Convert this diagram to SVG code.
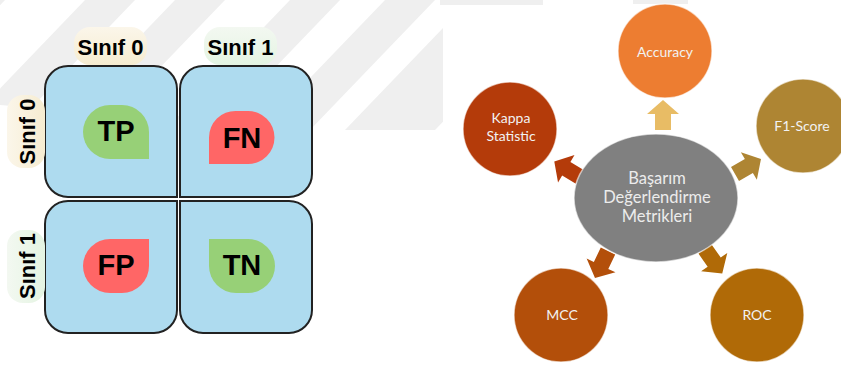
<svg xmlns="http://www.w3.org/2000/svg" width="841" height="369" viewBox="0 0 841 369">
<defs>
<style>
.quad{fill:#aedbef;stroke:#222;stroke-width:2}
.big{font-family:"Liberation Sans",Arial,sans-serif;font-weight:bold;font-size:29px;fill:#000;text-anchor:middle}
.hdr{font-family:"Liberation Sans",Arial,sans-serif;font-weight:bold;font-size:22px;fill:#000;text-anchor:middle}
.met{font-family:Lato,"Open Sans",sans-serif;font-size:14px;fill:#f2f2f2;text-anchor:middle}
.ctr{font-family:Lato,"Open Sans",sans-serif;font-size:16.5px;fill:#ececec;text-anchor:middle}
.node{stroke:#ffffff;stroke-opacity:0.6;stroke-width:1.5}
.stripe{fill:#efefef}
</style>
<linearGradient id="cream" x1="0" y1="0" x2="0" y2="1">
<stop offset="0" stop-color="#fbf6ea"/><stop offset="1" stop-color="#f6ecd0"/>
</linearGradient>
<linearGradient id="creamV" x1="0" y1="0" x2="1" y2="0">
<stop offset="0" stop-color="#fbf6ea"/><stop offset="1" stop-color="#f6ecd0"/>
</linearGradient>
<linearGradient id="mint" x1="0" y1="0" x2="0" y2="1">
<stop offset="0" stop-color="#f3f8f1"/><stop offset="1" stop-color="#e4f4e2"/>
</linearGradient>
<linearGradient id="mintV" x1="0" y1="0" x2="1" y2="0">
<stop offset="0" stop-color="#f3f8f1"/><stop offset="1" stop-color="#e4f4e2"/>
</linearGradient>
<clipPath id="wm"><polygon points="0,0 443,0 443,130 300,130 0,105"/></clipPath>
<polygon id="arr" points="0,-8 16,-8 16,-16 30,0 16,16 16,8 0,8"/>
</defs>
<rect width="841" height="369" fill="#ffffff"/>
<g id="watermark" clip-path="url(#wm)">
<polygon class="stripe" points="-40,0 5,0 -120,130 -165,130"/>
<polygon class="stripe" points="85,0 135,0 10,130 -40,130"/>
<polygon class="stripe" points="175,0 225,0 100,130 50,130"/>
<polygon class="stripe" points="290,0 340,0 215,130 165,130"/>
<polygon class="stripe" points="385,0 435,0 310,130 260,130"/>
<polygon class="stripe" points="470,0 560,0 435,130 345,130"/>
</g>
<g id="watermark-top">
<rect x="440" y="0" width="103" height="5" fill="#efefef"/>
<rect x="633" y="0" width="55" height="4" fill="#efefef"/>
</g>
<g id="quadrants">
<g id="q-tp"><path class="quad" d="M68,66 H154 A23,23 0 0 1 177,89 V197 H68 A23,23 0 0 1 45,174 V89 A23,23 0 0 1 68,66 Z"/></g>
<g id="q-fn"><path class="quad" d="M203,66 H289 A23,23 0 0 1 312,89 V174 A23,23 0 0 1 289,197 H180 V89 A23,23 0 0 1 203,66 Z"/></g>
<g id="q-fp"><path class="quad" d="M68,201 H177 V310 A23,23 0 0 1 154,333 H68 A23,23 0 0 1 45,310 V224 A23,23 0 0 1 68,201 Z"/></g>
<g id="q-tn"><path class="quad" d="M180,201 H289 A23,23 0 0 1 312,224 V310 A23,23 0 0 1 289,333 H203 A23,23 0 0 1 180,310 Z"/></g>
</g>
<g id="headers">
<g id="h-col0"><rect x="74" y="27" width="73" height="38" rx="16" fill="url(#cream)"/><text class="hdr" x="110.5" y="55">Sınıf 0</text></g>
<g id="h-col1"><rect x="204" y="27" width="73" height="38" rx="16" fill="url(#mint)"/><text class="hdr" x="240.5" y="55">Sınıf 1</text></g>
<g id="h-row0"><rect x="7" y="95" width="38" height="73" rx="16" fill="url(#creamV)"/><text class="hdr" transform="translate(34.5,131.5) rotate(-90)">Sınıf 0</text></g>
<g id="h-row1"><rect x="7" y="230" width="38" height="73" rx="16" fill="url(#mintV)"/><text class="hdr" transform="translate(34.5,266) rotate(-90)">Sınıf 1</text></g>
</g>
<g id="tp"><path d="M110,105 H122 A27,27 0 0 1 149,132 V159 H110 A27,27 0 0 1 83,132 A27,27 0 0 1 110,105 Z" fill="#97d077"/><text class="big" x="116" y="141">TP</text></g>
<g id="fn"><path d="M236,111 H248 A26.5,26.5 0 0 1 248,164 H209 V137.5 A26.5,26.5 0 0 1 236,111 Z" fill="#ff6666"/><text class="big" x="242" y="148">FN</text></g>
<g id="fp"><path d="M110,239 H149 V266 A27,27 0 0 1 122,293 H110 A27,27 0 0 1 110,239 Z" fill="#ff6666"/><text class="big" x="116" y="274.5">FP</text></g>
<g id="tn"><path d="M209,239 H248 A27,27 0 0 1 248,293 H236 A27,27 0 0 1 209,266 Z" fill="#97d077"/><text class="big" x="242" y="274.5">TN</text></g>
<g id="connectors">
<use href="#arr" fill="#e8bc65" transform="translate(663,130) rotate(-90)"/>
<use href="#arr" fill="#b43b0a" transform="translate(580,177) rotate(-149)"/>
<use href="#arr" fill="#ae8533" transform="translate(735,174) rotate(-30)"/>
<use href="#arr" fill="#b34f0a" transform="translate(608,251) rotate(115.7)"/>
<use href="#arr" fill="#b06a07" transform="translate(705,249) rotate(54.9)"/>
</g>
<g id="center"><ellipse class="node" cx="656" cy="198" rx="82" ry="64" fill="#808080"/>
<text class="ctr" x="657" y="184">Başarım</text>
<text class="ctr" x="657" y="203">Değerlendirme</text>
<text class="ctr" x="657" y="222">Metrikleri</text></g>
<g id="accuracy"><circle class="node" cx="665" cy="51" r="47" fill="#ed7d31"/><text class="met" x="665" y="57">Accuracy</text></g>
<g id="kappa"><circle class="node" cx="510" cy="129" r="47" fill="#b43b0a"/><text class="met" x="511" y="123">Kappa</text><text class="met" x="511" y="141">Statistic</text></g>
<g id="f1"><circle class="node" cx="803" cy="126" r="47" fill="#ae8533"/><text class="met" x="802" y="131">F1-Score</text></g>
<g id="mcc"><circle class="node" cx="561" cy="315" r="47" fill="#b34f0a"/><text class="met" x="562" y="320">MCC</text></g>
<g id="roc"><circle class="node" cx="757" cy="315" r="47" fill="#b06a07"/><text class="met" x="757" y="320">ROC</text></g>
</svg>
